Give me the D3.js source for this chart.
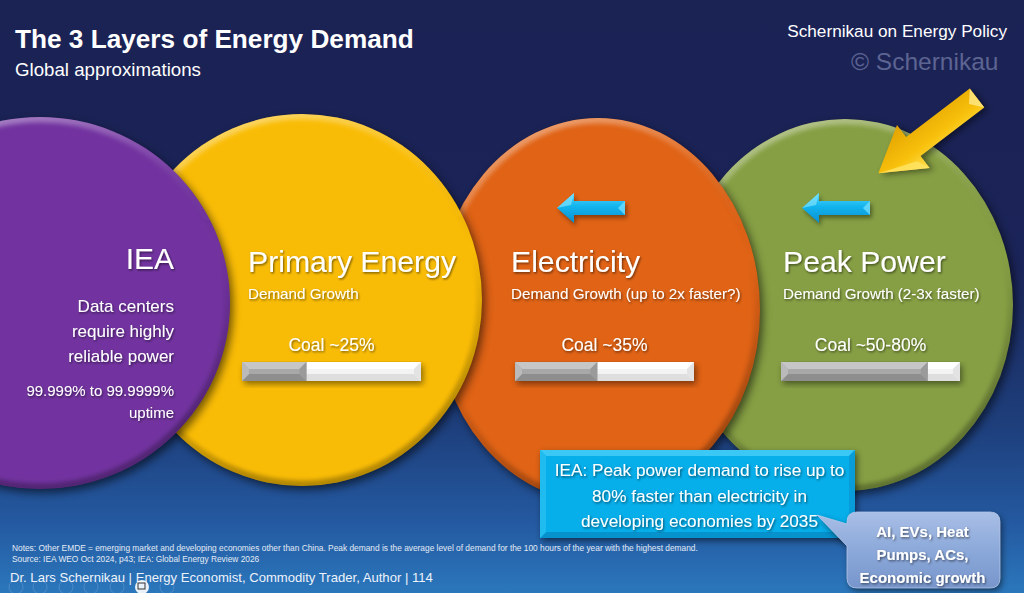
<!DOCTYPE html>
<html><head><meta charset="utf-8">
<script src="https://cdn.jsdelivr.net/npm/d3@7/dist/d3.min.js"></script>
<style>html,body{margin:0;padding:0;background:#1b2254;overflow:hidden}svg{display:block}text{font-family:"Liberation Sans",Arial,sans-serif}</style>
</head><body><svg id="c" width="1024" height="593"></svg>
<script>
// ---------- DATA ----------
const layerNames = ["IEA", "Primary Energy", "Electricity", "Peak Power"];
const layerSubtitles = ["", "Demand Growth", "Demand Growth (up to 2x faster?)", "Demand Growth (2-3x faster)"];
const coalLabels = ["Coal ~25%", "Coal ~35%", "Coal ~50-80%"];
const coalBarShare = [0.36, 0.46, 0.82];
const ieaLines = ["Data centers", "require highly", "reliable power"];
const uptimeLines = ["99.999% to 99.9999%", "uptime"];
const boxLines = ["IEA: Peak power demand to rise up to", "80% faster than electricity in", "developing economies by 2035"];
const calloutLines = ["AI, EVs, Heat", "Pumps, ACs,", "Economic growth"];
const noteLines = ["Notes: Other EMDE = emerging market and developing economies other than China. Peak demand is the average level of demand for the 100 hours of the year with the highest demand.",
                   "Source: IEA WEO Oct 2024, p43; IEA: Global Energy Review 2026"];
const titleText = "The 3 Layers of Energy Demand";
const subtitleText = "Global approximations";
const brandText = "Schernikau on Energy Policy";
const copyrightText = "\u00A9 Schernikau";
const footerText = "Dr. Lars Schernikau | Energy Economist, Commodity Trader, Author | 114";

// ---------- LAYOUT / STYLE ----------
const W = 1024, H = 593;
const ellipses = [
  {cx: 40,  cy: 303, rx: 190, ry: 186, fill: "#7233a0"},
  {cx: 302, cy: 300, rx: 180, ry: 186, fill: "#f9bc06"},
  {cx: 598, cy: 310, rx: 162, ry: 192, fill: "#e06316"},
  {cx: 845, cy: 305, rx: 168, ry: 186, fill: "#869f44"}
];
const headX = [248, 511, 783];
const barX = [242, 515, 781];
const barY = 362, barH = 19, barW = 179;

const svg = d3.select("#c");
const defs = svg.append("defs");

const bg = defs.append("linearGradient").attr("id","bg").attr("x1",0).attr("y1",0).attr("x2",0).attr("y2",1);
[[0,"#1b2254"],[0.45,"#1b2458"],[0.72,"#1e3f7c"],[0.88,"#2459a0"],[1,"#2b77bc"]].forEach(s=>bg.append("stop").attr("offset",s[0]).attr("stop-color",s[1]));

const rim = defs.append("linearGradient").attr("id","rim").attr("x1",0).attr("y1",0).attr("x2",0.3).attr("y2",1);
[[0,"#fff",0.5],[0.3,"#fff",0.12],[0.6,"#000",0],[1,"#000",0.28]].forEach(s=>rim.append("stop").attr("offset",s[0]).attr("stop-color",s[1]).attr("stop-opacity",s[2]));

const blur = (id, sd) => defs.append("filter").attr("id",id).attr("x","-20%").attr("y","-20%").attr("width","140%").attr("height","140%")
  .append("feGaussianBlur").attr("stdDeviation", sd);
blur("blur4", 4); blur("blur2", 2.2); blur("blur3", 3);

const ts = defs.append("filter").attr("id","ts").attr("x","-10%").attr("y","-30%").attr("width","120%").attr("height","160%");
ts.append("feDropShadow").attr("dx",1).attr("dy",1.3).attr("stdDeviation",1).attr("flood-color","#000").attr("flood-opacity",0.55);

const arrowGrad = defs.append("linearGradient").attr("id","ag").attr("x1",0).attr("y1",0).attr("x2",0).attr("y2",1);
[[0,"#55d6fb"],[0.45,"#12b4ee"],[1,"#0a8fd0"]].forEach(s=>arrowGrad.append("stop").attr("offset",s[0]).attr("stop-color",s[1]));
const yGrad = defs.append("linearGradient").attr("id","yg").attr("gradientUnits","userSpaceOnUse").attr("x1",0).attr("y1",-28).attr("x2",0).attr("y2",28);
[[0,"#ffe45a"],[0.4,"#f8c10c"],[1,"#e2a200"]].forEach(s=>yGrad.append("stop").attr("offset",s[0]).attr("stop-color",s[1]));
const cGrad = defs.append("linearGradient").attr("id","cg").attr("x1",0).attr("y1",0).attr("x2",0).attr("y2",1);
[[0,"#a9bfe6"],[0.5,"#8ca9da"],[1,"#7896cc"]].forEach(s=>cGrad.append("stop").attr("offset",s[0]).attr("stop-color",s[1]));

svg.append("rect").attr("width",W).attr("height",H).attr("fill","url(#bg)");

// ---------- ELLIPSES (back to front) ----------
const eg = svg.append("g");
ellipses.slice().reverse().forEach((e,i)=>{
  const id = "clip" + i;
  defs.append("clipPath").attr("id",id).append("ellipse").attr("cx",e.cx).attr("cy",e.cy).attr("rx",e.rx).attr("ry",e.ry);
  eg.append("ellipse").attr("cx",e.cx+3).attr("cy",e.cy+4).attr("rx",e.rx).attr("ry",e.ry)
    .attr("fill","#000").attr("opacity",0.55).attr("filter","url(#blur4)");
  eg.append("ellipse").attr("cx",e.cx).attr("cy",e.cy).attr("rx",e.rx).attr("ry",e.ry).attr("fill",e.fill);
  eg.append("g").attr("clip-path",`url(#${id})`).append("ellipse")
    .attr("cx",e.cx).attr("cy",e.cy).attr("rx",e.rx-1).attr("ry",e.ry-1)
    .attr("fill","none").attr("stroke","url(#rim)").attr("stroke-width",9).attr("filter","url(#blur2)");
});

// ---------- helpers ----------
function bevelRect(g, x, y, w, h, b, c) {
  const by = Math.min(b, h/2);
  g.append("rect").attr("x",x).attr("y",y).attr("width",w).attr("height",h).attr("fill",c.base);
  const poly = (pts, f) => g.append("polygon").attr("points", pts.map(p=>p.join(",")).join(" ")).attr("fill", f);
  poly([[x,y],[x+w,y],[x+w-b,y+by],[x+b,y+by]], c.top);
  poly([[x,y+h],[x+w,y+h],[x+w-b,y+h-by],[x+b,y+h-by]], c.bottom);
  poly([[x,y],[x+b,y+by],[x+b,y+h-by],[x,y+h]], c.left);
  poly([[x+w,y],[x+w-b,y+by],[x+w-b,y+h-by],[x+w,y+h]], c.right);
}
function shadowRect(g, x, y, w, h, r, op) {
  g.append("rect").attr("x",x+2).attr("y",y+3).attr("width",w).attr("height",h).attr("rx",r||0)
    .attr("fill","#000").attr("opacity",op).attr("filter","url(#blur3)");
}
function txt(g, s, x, y, size, opts={}) {
  return g.append("text").attr("x",x).attr("y",y).text(s)
    .attr("font-size",size).attr("fill",opts.fill||"#fff")
    .attr("font-weight",opts.weight||"normal")
    .attr("text-anchor",opts.anchor||"start")
    .attr("font-family",opts.family||null)
    .attr("filter",opts.shadow===false?null:"url(#ts)");
}

// ---------- coal bars ----------
const xShare = d3.scaleLinear().domain([0,1]).range([0,barW]);
const bars = svg.append("g");
coalBarShare.forEach((v,i)=>{
  shadowRect(bars, barX[i], barY, barW, barH, 0, 0.45);
  bevelRect(bars, barX[i], barY, barW, barH, 7, {base:"#f3f3f3", top:"#ffffff", bottom:"#dedede", left:"#ececec", right:"#e3e3e3"});
  bevelRect(bars, barX[i], barY, xShare(v), barH, 7, {base:"#a8a8a8", top:"#c6c6c6", bottom:"#8e8e8e", left:"#bababa", right:"#9a9a9a"});
});

// ---------- blue arrows ----------
const blueArrows = [{tip:557, tail:625}, {tip:802, tail:870}];
const arrowCY = 208;
blueArrows.forEach(a=>{
  const hb = a.tip + 17;
  const pts = [[a.tip,arrowCY],[hb,arrowCY-15],[hb,arrowCY-7],[a.tail,arrowCY-7],[a.tail,arrowCY+7],[hb,arrowCY+7],[hb,arrowCY+15]];
  svg.append("polygon").attr("points",pts.map(p=>p.join(",")).join(" ")).attr("fill","#000").attr("opacity",0.4)
    .attr("transform","translate(2,3)").attr("filter","url(#blur2)");
  svg.append("polygon").attr("points",pts.map(p=>p.join(",")).join(" ")).attr("fill","url(#ag)");
  svg.append("polygon").attr("points",[[a.tail-7,arrowCY],[a.tail,arrowCY-7],[a.tail,arrowCY+7]].map(p=>p.join(",")).join(" ")).attr("fill","#7fe3ff").attr("opacity",0.7);
  svg.append("polygon").attr("points",[[a.tip,arrowCY],[hb,arrowCY-15],[hb-3,arrowCY-3]].map(p=>p.join(",")).join(" ")).attr("fill","#8ae8ff").attr("opacity",0.6);
});

// ---------- yellow arrow ----------
const ya = svg.append("g").attr("transform","translate(977,98) rotate(142.7)");
const yPts = [[0,-12],[80,-12],[80,-27],[124,0],[80,27],[80,12],[0,12]];
ya.append("polygon").attr("points",yPts.map(p=>p.join(",")).join(" ")).attr("fill","#000").attr("opacity",0.45)
  .attr("transform","translate(-2,-4)").attr("filter","url(#blur3)");
ya.append("polygon").attr("points",yPts.map(p=>p.join(",")).join(" ")).attr("fill","url(#yg)");
ya.append("polygon").attr("points",[[0,-12],[10,0],[0,12]].map(p=>p.join(",")).join(" ")).attr("fill","#ffe98a").attr("opacity",0.8);
ya.append("polygon").attr("points",[[80,-27],[124,0],[86,-14]].map(p=>p.join(",")).join(" ")).attr("fill","#ffe566").attr("opacity",0.8);

// ---------- blue box ----------
const box = {x:540, y:450, w:315, h:88};
shadowRect(svg, box.x, box.y, box.w, box.h, 0, 0.5);
bevelRect(svg, box.x, box.y, box.w, box.h, 6, {base:"#06aeea", top:"#3cc8f4", bottom:"#0592cd", left:"#20bbef", right:"#089cd8"});
boxLines.forEach((s,i)=> txt(svg, s, box.x+box.w/2+2, 476 + i*25.5, 17.2, {anchor:"middle"}));

// ---------- callout ----------
const co = {x:847, y:512, w:153, h:76, r:10};
const cPath = `M${co.x+co.r},${co.y} H${co.x+co.w-co.r} Q${co.x+co.w},${co.y} ${co.x+co.w},${co.y+co.r} V${co.y+co.h-co.r} Q${co.x+co.w},${co.y+co.h} ${co.x+co.w-co.r},${co.y+co.h} H${co.x+co.r} Q${co.x},${co.y+co.h} ${co.x},${co.y+co.h-co.r} V${co.y+34} L${co.x-30},${co.y+3} L${co.x},${co.y+12} V${co.y+co.r} Q${co.x},${co.y} ${co.x+co.r},${co.y} Z`;
svg.append("path").attr("d",cPath).attr("fill","#000").attr("opacity",0.5).attr("transform","translate(2,3)").attr("filter","url(#blur3)");
svg.append("path").attr("d",cPath).attr("fill","url(#cg)").attr("stroke","#b6c8ea").attr("stroke-width",0.8);
calloutLines.forEach((s,i)=> txt(svg, s, co.x+co.w/2-1, 537 + i*23, 15, {anchor:"middle", weight:"bold"}));

// ---------- titles ----------
txt(svg, titleText, 15, 48, 26.2, {weight:"bold", shadow:false});
txt(svg, subtitleText, 15, 76, 18.7, {shadow:false});
txt(svg, brandText, 1007, 37, 17.2, {anchor:"end", shadow:false});
txt(svg, copyrightText, 851, 70, 24.5, {fill:"#5d6492", family:"'Open Sans', 'Noto Sans', sans-serif", shadow:false});

// ---------- circle texts ----------
txt(svg, layerNames[0], 174, 269, 30, {anchor:"end"});
ieaLines.forEach((s,i)=> txt(svg, s, 174, 312 + i*25, 17, {anchor:"end"}));
uptimeLines.forEach((s,i)=> txt(svg, s, 174, 396 + i*21.5, 15, {anchor:"end"}));
layerNames.slice(1).forEach((s,i)=>{
  txt(svg, s, headX[i], 272, 30.2);
  txt(svg, layerSubtitles[i+1], headX[i], 299, 15.2);
  txt(svg, coalLabels[i], barX[i] + barW/2, 351, 17.5, {anchor:"middle"});
});

// ---------- notes & footer ----------
txt(svg, noteLines[0], 12, 551, 8.35, {fill:"#e3eaf5", shadow:false});
txt(svg, noteLines[1], 12, 562, 8.35, {fill:"#e3eaf5", shadow:false});
txt(svg, footerText, 10, 582, 13.1, {fill:"#eef3fb", shadow:false});
[16,40,66,91,117,167].forEach(x=> svg.append("circle").attr("cx",x).attr("cy",587).attr("r",7)
  .attr("fill","none").attr("stroke","#fff").attr("stroke-opacity",0.15).attr("stroke-width",1));
svg.append("circle").attr("cx",142).attr("cy",587).attr("r",7).attr("fill","#fff").attr("opacity",0.9);
svg.append("rect").attr("x",138).attr("y",583).attr("width",7).attr("height",6).attr("fill","none").attr("stroke","#333").attr("stroke-width",1);
</script></body></html>
